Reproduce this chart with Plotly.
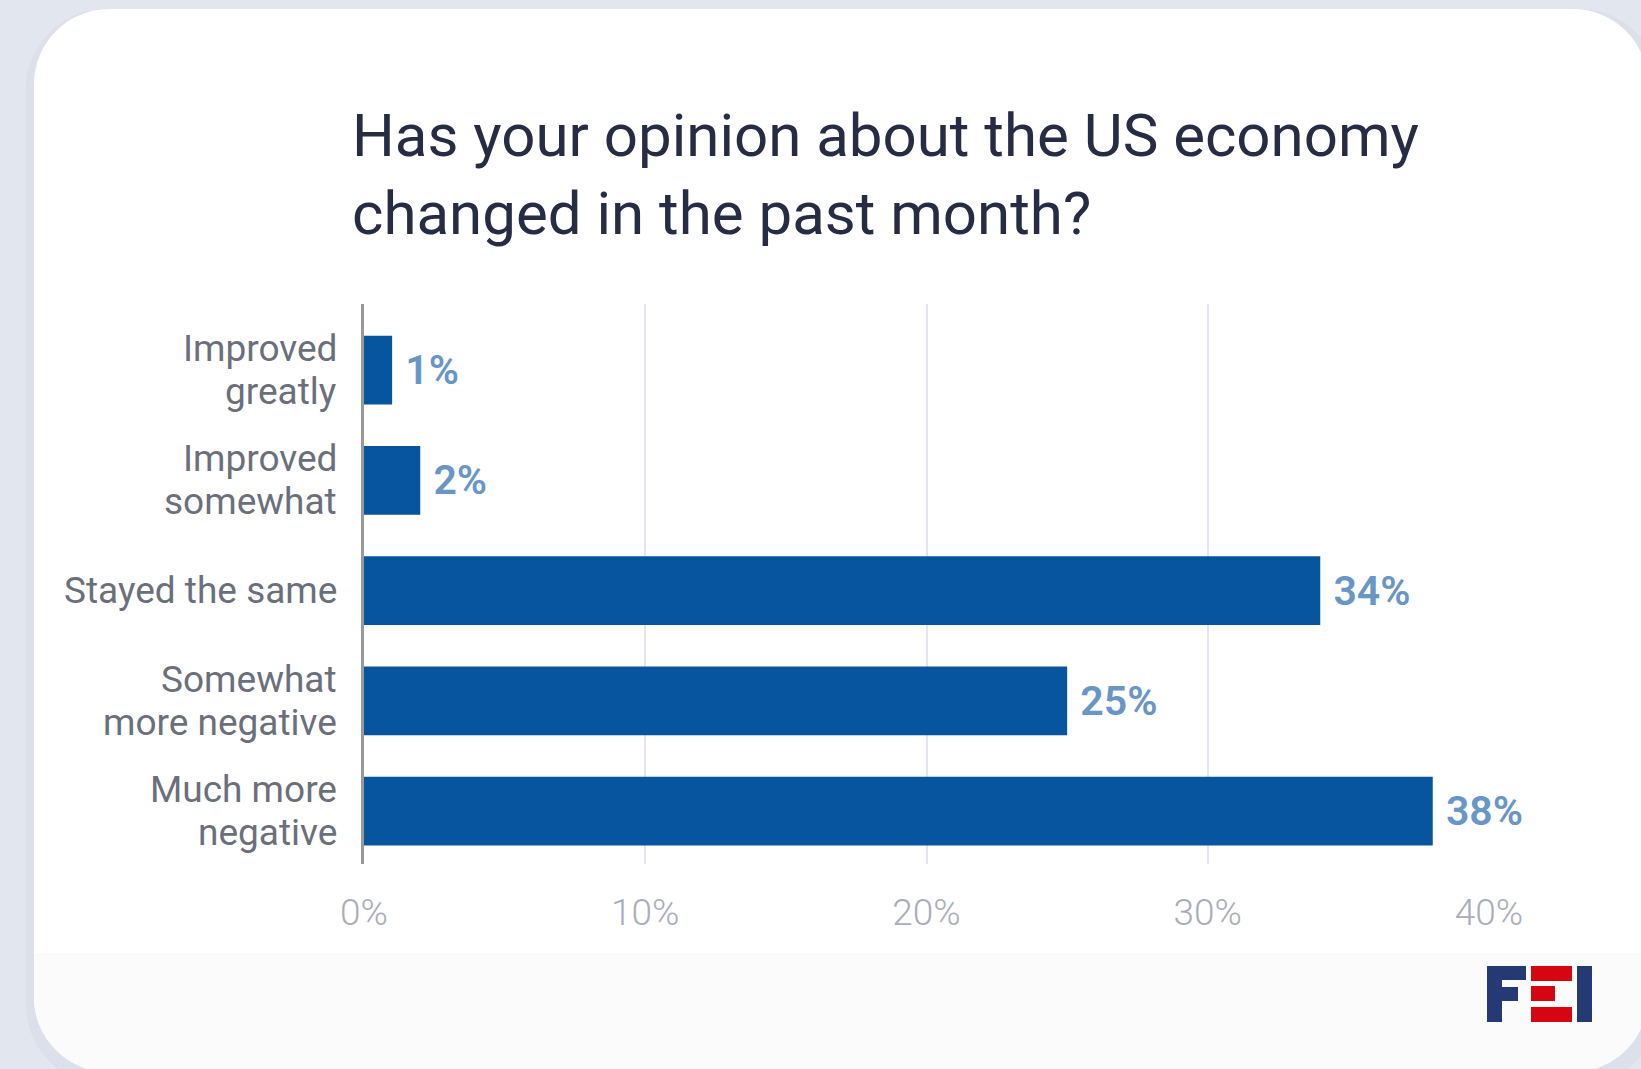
import plotly.graph_objects as go

# Survey responses
categories = [
    "Improved<br>greatly",
    "Improved<br>somewhat",
    "Stayed the same",
    "Somewhat<br>more negative",
    "Much more<br>negative",
]
values = [1, 2, 34, 25, 38]
tick_values = [0, 10, 20, 30, 40]
tick_labels = ["0%", "10%", "20%", "30%", "40%"]

W, H = 1641, 1069
PL, PR, PT, PB = 364, 1489, 304, 864  # plot-area edges in pixels


def px(x):
    return (x - PL) / (PR - PL)


def py(y):
    return (PB - y) / (PB - PT)


def rounded_path(x0, y0, x1, y1, r, top=True):
    """SVG path (paper coords) for a rectangle with rounded corners."""
    k = 0.45
    pts = []
    if top:
        pts.append(f"M {px(x0)},{py(y0 + r)}")
        pts.append(f"C {px(x0)},{py(y0 + r * k)} {px(x0 + r * k)},{py(y0)} {px(x0 + r)},{py(y0)}")
        pts.append(f"L {px(x1 - r)},{py(y0)}")
        pts.append(f"C {px(x1 - r * k)},{py(y0)} {px(x1)},{py(y0 + r * k)} {px(x1)},{py(y0 + r)}")
    else:
        pts.append(f"M {px(x0)},{py(y0)}")
        pts.append(f"L {px(x1)},{py(y0)}")
    pts.append(f"L {px(x1)},{py(y1 - r)}")
    pts.append(f"C {px(x1)},{py(y1 - r * k)} {px(x1 - r * k)},{py(y1)} {px(x1 - r)},{py(y1)}")
    pts.append(f"L {px(x0 + r)},{py(y1)}")
    pts.append(f"C {px(x0 + r * k)},{py(y1)} {px(x0)},{py(y1 - r * k)} {px(x0)},{py(y1 - r)}")
    pts.append("Z")
    return " ".join(pts)


fig = go.Figure()

fig.add_trace(
    go.Bar(
        x=values,
        y=categories,
        orientation="h",
        marker=dict(color="#08559f", line=dict(width=0)),
        width=0.625,
        text=[f"\u00a0{v}%" for v in values],
        textposition="outside",
        textfont=dict(family="Roboto", size=41, color="#6796c7", weight=600),
        constraintext="none",
        cliponaxis=False,
        hoverinfo="skip",
    )
)

shapes = []
# soft shadow beside the card
shapes.append(dict(type="path", xref="paper", yref="paper", layer="below",
                   path=rounded_path(26, 9, 1660, 1085, 80),
                   fillcolor="#dce0ea", line=dict(width=0)))
# white card
shapes.append(dict(type="path", xref="paper", yref="paper", layer="below",
                   path=rounded_path(34, 9, 1648, 1072, 75),
                   fillcolor="#ffffff", line=dict(width=0)))
# footer band of the card
shapes.append(dict(type="path", xref="paper", yref="paper", layer="below",
                   path=rounded_path(34, 953, 1648, 1072, 75, top=False),
                   fillcolor="#fbfbfc", line=dict(width=0)))

# FEI logo blocks
navy, red = "#253a74", "#d7050f"
logo = [
    (1487, 966, 1502, 1022, navy),   # F stem
    (1487, 966, 1526, 980, navy),    # F top arm
    (1487, 987, 1518, 1001, navy),   # F middle arm
    (1531, 966, 1572, 981, red),     # E top
    (1531, 986, 1555, 1001, red),    # E middle
    (1531, 1007, 1572, 1022, red),   # E bottom
    (1577, 966, 1592, 1022, navy),   # I
]
for x0, y0, x1, y1, c in logo:
    shapes.append(dict(type="rect", xref="paper", yref="paper", layer="above",
                       x0=px(x0), x1=px(x1), y0=py(y1), y1=py(y0),
                       fillcolor=c, line=dict(width=0)))

# Category labels, one annotation per text line for tight line spacing
annotations = []
LINE_GAP = 43
for cat in categories:
    lines = cat.split("<br>")
    n = len(lines)
    for i, line in enumerate(lines):
        offset = ((n - 1) / 2 - i) * LINE_GAP
        annotations.append(dict(
            text=line, x=px(339), xref="paper", y=cat, yref="y",
            xanchor="right", yanchor="middle", yshift=offset,
            showarrow=False,
            font=dict(family="Roboto", size=37, color="#6b6f7c"),
        ))

fig.update_layout(
    width=W,
    height=H,
    margin=dict(l=PL, r=W - PR, t=PT, b=H - PB, pad=0),
    paper_bgcolor="#e2e6ef",
    plot_bgcolor="rgba(0,0,0,0)",
    showlegend=False,
    shapes=shapes,
    annotations=annotations,
    title=dict(
        text="Has your opinion about the US economy<br>changed in the past month?",
        font=dict(family="Roboto", size=60, color="#262c44"),
        xref="container", x=352 / W, xanchor="left",
        yref="container", y=1 - 156 / H, yanchor="top",
    ),
    xaxis=dict(
        range=[0, 40],
        tickvals=tick_values,
        ticktext=tick_labels,
        showgrid=True,
        gridcolor="#e3e6ef",
        gridwidth=2,
        zeroline=False,
        showline=False,
        ticks="outside",
        ticklen=16,
        tickcolor="rgba(0,0,0,0)",
        tickfont=dict(family="Roboto", size=37, color="#a9adb9", weight=300),
        fixedrange=True,
    ),
    yaxis=dict(
        type="category",
        categoryorder="array",
        categoryarray=categories,
        range=[4.48, -0.6],
        showgrid=False,
        zeroline=False,
        showline=True,
        linecolor="#999999",
        linewidth=3,
        showticklabels=False,
        ticks="",
        fixedrange=True,
    ),
)

fig.write_html("out.html", config=dict(displayModeBar=False))
